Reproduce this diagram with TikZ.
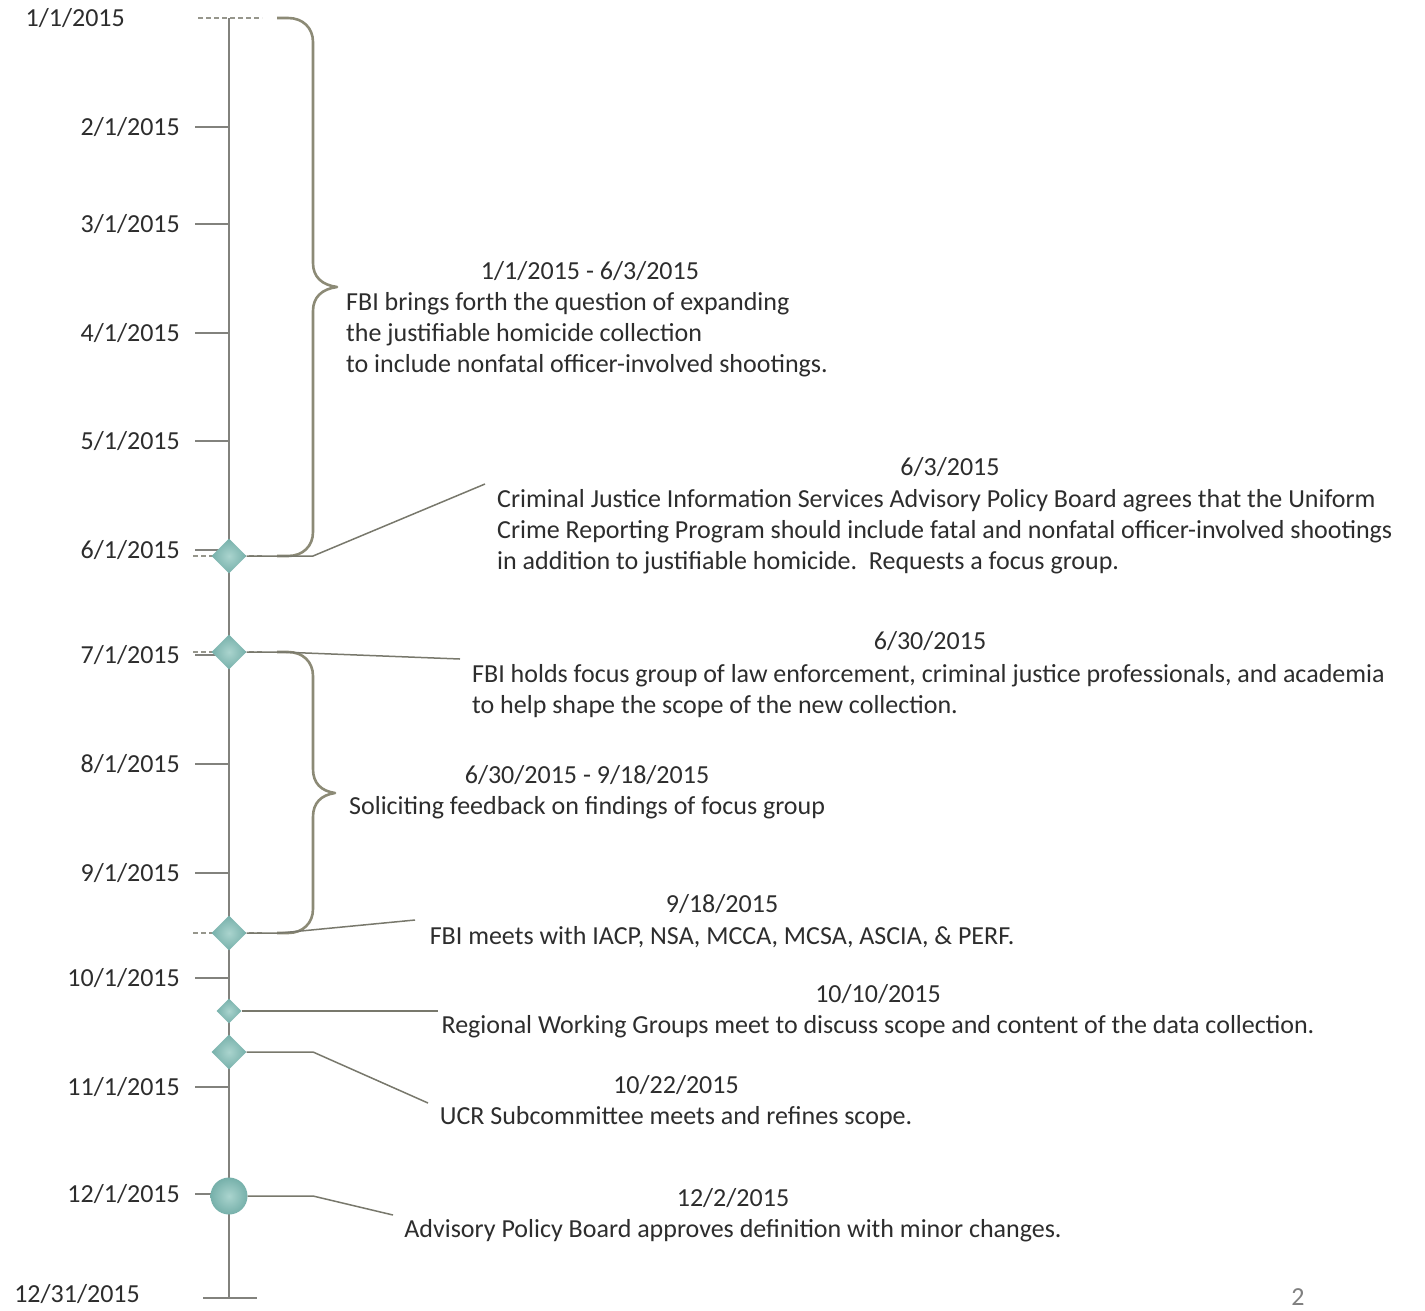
\documentclass[tikz,border=0pt]{standalone}
\usepackage{fontspec}
\setmainfont{Carlito}
\usetikzlibrary{shapes.geometric}
\definecolor{txt}{RGB}{45,45,45}
\definecolor{axisc}{RGB}{130,130,125}
\definecolor{bracec}{RGB}{140,138,118}
\definecolor{connc}{RGB}{120,120,108}
\definecolor{teal1}{RGB}{118,176,170}
\definecolor{teal2}{RGB}{170,212,206}
\definecolor{dashc}{RGB}{150,150,140}
\tikzset{
  lbl/.style={font=\fontsize{26}{31}\selectfont, text=txt, inner sep=0pt},
  month/.style={lbl, anchor=east},
  body/.style={lbl, align=left},
  axisline/.style={draw=axisc, line width=1.8pt},
  tickline/.style={draw=axisc, line width=1.6pt},
  dashtick/.style={draw=dashc, line width=1.4pt, dash pattern=on 5pt off 3pt},
  bracel/.style={draw=bracec, line width=2.6pt, line join=round},
  conn/.style={draw=connc, line width=1.5pt},
  evbig/.style={diamond, minimum size=35pt, inner sep=0pt, inner color=teal2, outer color=teal1, draw=none},
  evsmall/.style={diamond, minimum size=25pt, inner sep=0pt, inner color=teal2, outer color=teal1, draw=none},
  evball/.style={circle, minimum size=37pt, inner sep=0pt, inner color=teal2, outer color=teal1, draw=none},
}
\begin{document}
\begin{tikzpicture}[x=1pt,y=-1pt]
\useasboundingbox (0,0) rectangle (1425,1310);
\fill[white] (0,0) rectangle (1425,1310);
% axis
\coordinate (axtop) at (229,18);
\coordinate (axbot) at (229,1298);
\draw[axisline] (axtop) -- (axbot);
% end ticks
\coordinate (tt1) at (198,18); \coordinate (tt2) at (262,18);
\draw[dashtick] (tt1) -- (tt2);
\coordinate (bt1) at (203,1298); \coordinate (bt2) at (257,1298);
\draw[tickline] (bt1) -- (bt2);
\node[month] (m1) at (125,18) {1/1/2015};
\node[month] (m13) at (140,1294) {12/31/2015};
% month ticks and labels
\foreach \y/\t [count=\i] in {127/{2/1/2015},224/{3/1/2015},333/{4/1/2015},441/{5/1/2015},550/{6/1/2015},655/{7/1/2015},764/{8/1/2015},873/{9/1/2015},978/{10/1/2015},1087/{11/1/2015},1194/{12/1/2015}}{
  \coordinate (tk\i) at (195,\y);
  \coordinate (ta\i) at (229,\y);
  \draw[tickline] (tk\i) -- (ta\i);
  \node[month] (ml\i) at (180,\y) {\t};
}
% dashed event markers
\foreach \y [count=\i] in {556,652,933}{
  \coordinate (da\i) at (193,\y);
  \coordinate (db\i) at (262,\y);
  \draw[dashtick] (da\i) -- (db\i);
}
% braces
\draw[bracel] (277,18) -- (288,18) .. controls (303,18) and (313,28) .. (313,42)
  -- (313,263) .. controls (313,277) and (322,285) .. (337,287)
  .. controls (322,289) and (313,297) .. (313,311)
  -- (313,532) .. controls (313,546) and (303,556) .. (288,556) -- (277,556);
\draw[bracel] (277,652) -- (288,652) .. controls (303,652) and (313,662) .. (313,676)
  -- (313,769) .. controls (313,783) and (321,791) .. (335,793)
  .. controls (321,795) and (313,803) .. (313,817)
  -- (313,909) .. controls (313,923) and (303,933) .. (288,933) -- (277,933);
% events
\node[evbig] (e1) at (229,556) {};
\node[evbig] (e2) at (229,652) {};
\node[evbig] (e3) at (229,933) {};
\node[evsmall] (e4) at (229,1011) {};
\node[evbig] (e5) at (229,1052) {};
\node[evball] (e6) at (229,1196) {};
% connectors
\coordinate (c1a) at (313,556); \coordinate (c1b) at (485,484);
\draw[conn] (e1.east) -- (c1a) -- (c1b);
\coordinate (c2a) at (280,652); \coordinate (c2b) at (460,659);
\draw[conn] (e2.east) -- (c2a) -- (c2b);
\coordinate (c3a) at (280,933); \coordinate (c3b) at (415,920);
\draw[conn] (e3.east) -- (c3a) -- (c3b);
\coordinate (c4b) at (438,1011);
\draw[conn] (e4.east) -- (c4b);
\coordinate (c5a) at (313,1052); \coordinate (c5b) at (428,1103);
\draw[conn] (e5.east) -- (c5a) -- (c5b);
\coordinate (c6a) at (313,1196); \coordinate (c6b) at (393,1215);
\draw[conn] (e6.east) -- (c6a) -- (c6b);
% texts
\node[lbl] (t1) at (590,271) {1/1/2015 - 6/3/2015};
\node[body, anchor=west] (b1) at (346,335) {FBI brings forth the question of expanding\\the justifiable homicide collection\\to include nonfatal officer-involved shootings.};
\node[lbl] (t2) at (950,467) {6/3/2015};
\node[body, anchor=west] (b2) at (497,532) {Criminal Justice Information Services Advisory Policy Board agrees that the Uniform\\Crime Reporting Program should include fatal and nonfatal officer-involved shootings\\in addition to justifiable homicide.\ \ Requests a focus group.};
\node[lbl] (t3) at (930,641) {6/30/2015};
\node[body, anchor=west] (b3) at (472,691.5) {FBI holds focus group of law enforcement, criminal justice professionals, and academia\\to help shape the scope of the new collection.};
\node[lbl] (t4) at (587,775) {6/30/2015 - 9/18/2015};
\node[body, anchor=west] (b4) at (349,808) {Soliciting feedback on findings of focus group};
\node[lbl] (t5) at (722,904) {9/18/2015};
\node[lbl] (b5) at (722,937) {FBI meets with IACP, NSA, MCCA, MCSA, ASCIA, \& PERF.};
\node[lbl] (t6) at (878,994) {10/10/2015};
\node[lbl] (b6) at (878,1027) {Regional Working Groups meet to discuss scope and content of the data collection.};
\node[lbl] (t7) at (676,1085) {10/22/2015};
\node[lbl] (b7) at (676,1118) {UCR Subcommittee meets and refines scope.};
\node[lbl] (t8) at (733,1198) {12/2/2015};
\node[lbl] (b8) at (733,1231) {Advisory Policy Board approves definition with minor changes.};
\node[lbl, text=gray] (pg) at (1298,1297) {2};
\end{tikzpicture}
\end{document}
